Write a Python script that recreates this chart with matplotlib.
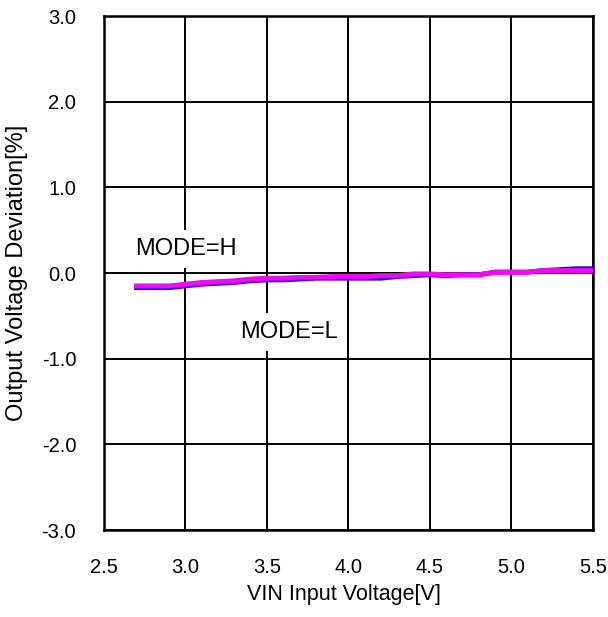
import numpy as np
import matplotlib.pyplot as plt

plt.rcParams['font.family'] = ['Liberation Sans', 'DejaVu Sans']

vin = [2.7, 2.8, 2.9, 3.0, 3.1, 3.2, 3.3, 3.4, 3.5, 3.6, 3.7, 3.8, 3.9, 4.0, 4.1,
       4.2, 4.3, 4.4, 4.5, 4.6, 4.7, 4.8, 4.9, 5.0, 5.1, 5.2, 5.3, 5.4, 5.5]
dev_h = [-0.15, -0.15, -0.15, -0.13, -0.11, -0.10, -0.09, -0.07, -0.06, -0.06, -0.05,
         -0.05, -0.04, -0.04, -0.04, -0.03, -0.03, -0.01, -0.01, -0.02, -0.02, -0.02,
         0.01, 0.01, 0.01, 0.03, 0.03, 0.03, 0.03]
dev_l = [-0.17, -0.17, -0.17, -0.15, -0.13, -0.12, -0.11, -0.09, -0.08, -0.08, -0.07,
         -0.06, -0.06, -0.06, -0.06, -0.06, -0.04, -0.03, -0.02, -0.03, -0.02, -0.02,
         0.01, 0.01, 0.01, 0.03, 0.04, 0.05, 0.05]

fig = plt.figure(figsize=(6.08, 6.17), dpi=100)
ax = fig.add_axes([0.171, 0.141, 0.804, 0.833])

ax.plot(vin, dev_l, color='#0000ff', lw=3.5, zorder=3)
ax.plot(vin, dev_h, color='#ff00ff', lw=3.5, zorder=4)

ax.set_xlim(2.5, 5.5)
ax.set_ylim(-3.0, 3.0)
ax.set_xticks(np.arange(2.5, 5.51, 0.5))
ax.set_yticks(np.arange(-3.0, 3.01, 1.0))
ax.xaxis.set_major_formatter(plt.FormatStrFormatter('%.1f'))
ax.yaxis.set_major_formatter(plt.FormatStrFormatter('%.1f'))
ax.tick_params(length=0, labelsize=14.5, pad=20)
ax.grid(True, color='black', lw=1.4)
for s in ax.spines.values():
    s.set_linewidth(1.8)

ax.set_xlabel('VIN Input Voltage[V]', fontsize=15.5)
ax.set_ylabel('Output Voltage Deviation[%]', fontsize=17)
ax.xaxis.set_label_coords(0.49, -0.105)
ax.yaxis.set_label_coords(-0.155, 0.5)

box = dict(facecolor='white', edgecolor='none', boxstyle='square,pad=0.35')
ax.text(3.0, 0.21, 'MODE=H', fontsize=17, ha='center', va='baseline', bbox=box, zorder=5)
ax.text(3.635, -0.76, 'MODE=L', fontsize=17, ha='center', va='baseline', bbox=box, zorder=5)

fig.savefig('out.png', dpi=100)
